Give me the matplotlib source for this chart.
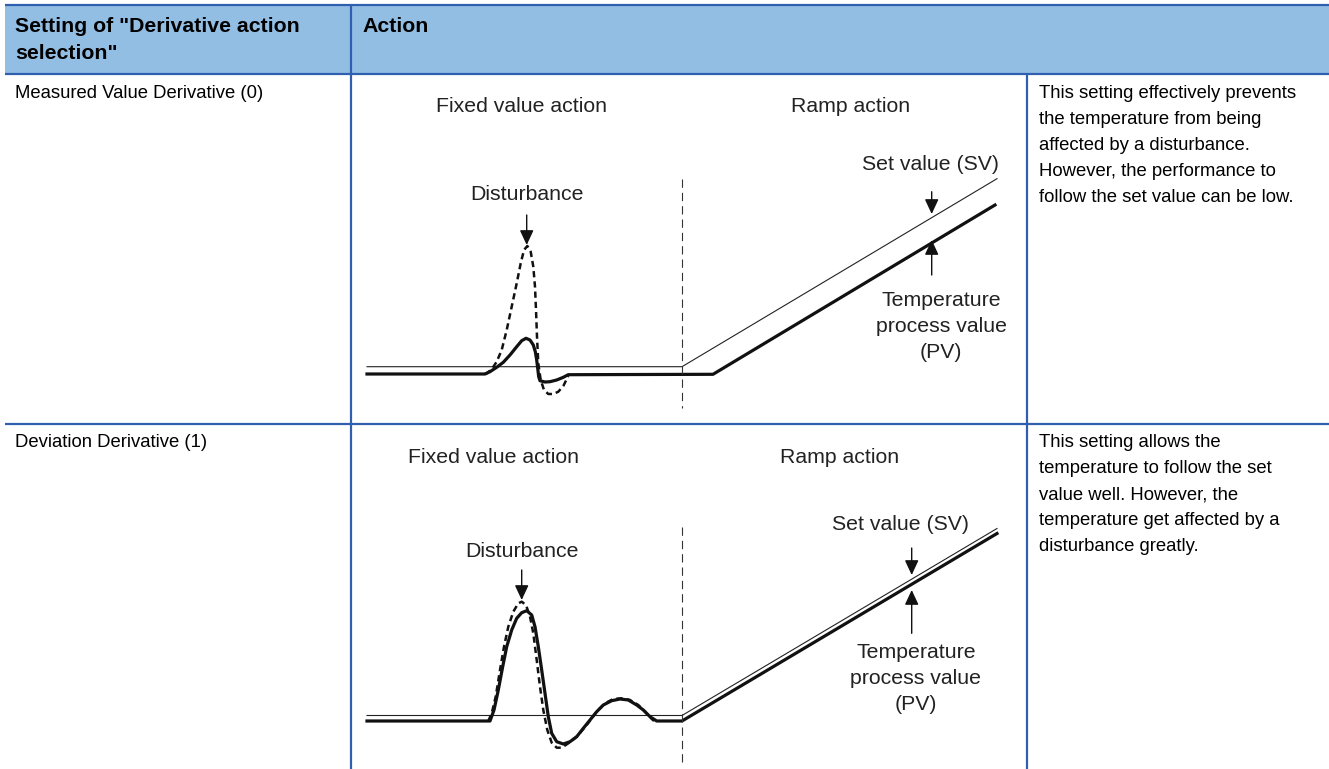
import matplotlib
matplotlib.use("Agg")
import matplotlib.pyplot as plt

plt.rcParams['font.family'] = ['Liberation Sans', 'DejaVu Sans']

# ---- table text ----
header_left = ['Setting of "Derivative action', 'selection"']
header_right = 'Action'
row_labels = ['Measured Value Derivative (0)', 'Deviation Derivative (1)']
row_notes = [
    ['This setting effectively prevents', 'the temperature from being',
     'affected by a disturbance.', 'However, the performance to',
     'follow the set value can be low.'],
    ['This setting allows the', 'temperature to follow the set',
     'value well. However, the', 'temperature get affected by a',
     'disturbance greatly.'],
]
pv_label = ['Temperature', 'process value', '(PV)']

# ---- panel 1: measured value derivative ----
p1_sv_t = [16, 331, 646]
p1_sv_v = [0, 0, 188]
p1_pv_t = [16, 134, 139, 145.7, 152.3, 159, 165.7, 170.7, 175, 179, 182.3, 184.3,
           185.7, 186.7, 187.7, 189, 194, 199, 205.7, 212.3, 217.3, 362, 644]
p1_pv_v = [-7.3, -7.3, -5, -0.6, 4.4, 11.7, 20, 26, 28.4, 26.7, 21.7, 15,
           6.7, -1.6, -10, -14, -15.3, -15, -13.3, -10.6, -8, -7.6, 161.7]
p1_dev_t = [134, 135.7, 140.7, 145.7, 150.7, 155.7, 160.7, 165.7, 169.7, 173, 176.3,
            179.7, 182.3, 184, 185, 186, 187.3, 189.7, 193, 197.3, 202.3, 207.3,
            212.3, 217.3]
p1_dev_v = [-7.3, -6.6, -2.6, 5, 16.7, 36.7, 60, 83.4, 103.4, 116.7, 120.7,
            115, 100, 80, 56.7, 30, 3.4, -13.3, -23.3, -27.3, -27.3, -25,
            -19.3, -9.3]

# ---- panel 2: deviation derivative ----
p2_sv_t = [16, 331, 646]
p2_sv_v = [0, 0, 187]
p2_pv_t = [16, 139, 143, 147.3, 151.7, 155.7, 160.7, 165.7, 170.7, 175.7, 180.7,
           184, 187.3, 190.7, 194, 197.3, 200.7, 205.7, 212.3, 219, 225.7, 232.3,
           239, 245.7, 252.3, 260.7, 269, 277.3, 285.7, 292.3, 299, 305.7, 331, 646]
p2_pv_v = [-5.5, -5.5, 5.5, 25.5, 48.8, 68.8, 85.5, 97.2, 102.8, 104.8, 100.5,
           88.8, 68.8, 45.5, 22.2, -1.2, -17.8, -26.2, -28.5, -26.2, -21.2, -12.8,
           -4.5, 3.8, 10.5, 14.8, 16.5, 15.5, 10.5, 5.5, -1.2, -5.5, -5.5, 182]
p2_dev_t = [137.3, 140.7, 144.7, 149, 153, 157.3, 162.3, 167.3, 170.7, 175, 179,
            182.3, 185.7, 189, 192.3, 196.3, 200.7, 205.7, 210.7, 217.3, 225.7,
            235.7, 245.7, 254, 262.3, 270.7, 279, 287.3, 294, 299, 303]
p2_dev_v = [-5.5, 2.2, 18.8, 45.5, 68.8, 88.8, 103.8, 112.2, 113.8, 110.5, 98.8,
            82.2, 55.5, 28.8, 5.5, -14.5, -27.2, -32.2, -32.2, -27.8, -21.2,
            -9.5, 3.8, 12.2, 16.5, 17.2, 15.5, 10.5, 3.8, -1.8, -5.5]

W, H = 1329, 769
fig = plt.figure(figsize=(W / 100, H / 100), dpi=100)

# table frame in pixel coordinates
tab = fig.add_axes([0, 0, 1, 1])
tab.set_xlim(0, W)
tab.set_ylim(H, 0)
tab.axis('off')

fill = '#93bee4'
border = '#2f5fae'
tab.fill_between([5, W], 5, 74, color=fill, lw=0)
for y in [5, 74, 424]:
    tab.plot([5, W], [y, y], color=border, lw=1.6, solid_capstyle='butt')
tab.plot([351, 351], [5, H], color=border, lw=1.6, solid_capstyle='butt')
tab.plot([1027, 1027], [74, H], color=border, lw=1.6, solid_capstyle='butt')

for i, line in enumerate(header_left):
    tab.text(15, 31.5 + 27.7 * i, line, fontsize=15.3, fontweight='bold', va='baseline')
tab.text(362, 31.5, header_right, fontsize=15.3, fontweight='bold', va='baseline')

row_base = [98.5, 447.3]
for lab, notes, y0 in zip(row_labels, row_notes, row_base):
    tab.text(15, y0, lab, fontsize=13.3, va='baseline')
    for k, line in enumerate(notes):
        tab.text(1039, y0 + 25.9 * k, line, fontsize=13.3, va='baseline')


def draw_panel(top, bottom, base, sv_t, sv_v, pv_t, pv_v, dev_t, dev_v,
               fixed_x, ramp_x, title_v, dist_t, dist_tail, dist_tip, dist_text_v,
               arr_t, sv_tail, sv_tip, pv_tip, pv_tail, sv_text_t, sv_text_v,
               pv_text_t, pv_text_v, div_top, div_bot):
    ax = fig.add_axes([351 / W, 1 - bottom / H, 676 / W, (bottom - top) / H])
    ax.set_xlim(0, 676)
    ax.set_ylim(base - bottom, base - top)
    ax.axis('off')
    ax.patch.set_alpha(0)

    ax.plot(sv_t, sv_v, color='#222222', lw=0.8)
    ax.plot(dev_t, dev_v, color='#111111', lw=1.8, dashes=(2.5, 1.6))
    ax.plot(pv_t, pv_v, color='#111111', lw=2.3, solid_joinstyle='round')
    ax.plot([331, 331], [div_top, div_bot], color='#333333', lw=0.8, dashes=(7.5, 4.5))

    ax.text(fixed_x, title_v, 'Fixed value action', fontsize=15.3, ha='center',
            va='baseline', color='#222222')
    ax.text(ramp_x, title_v, 'Ramp action', fontsize=15.3, ha='center',
            va='baseline', color='#222222')
    ax.text(dist_t, dist_text_v, 'Disturbance', fontsize=15.3, ha='center',
            va='baseline', color='#222222')
    ax.text(sv_text_t, sv_text_v, 'Set value (SV)', fontsize=15.3, ha='center',
            va='baseline', color='#222222')
    for k, line in enumerate(pv_label):
        ax.text(pv_text_t, pv_text_v - 26 * k, line, fontsize=15.3, ha='center',
                va='baseline', color='#222222')

    ap = dict(arrowstyle='-|>,head_length=0.9,head_width=0.42', color='#111111',
              lw=1.0, mutation_scale=10, shrinkA=0, shrinkB=0)
    ax.annotate('', xy=(dist_t, dist_tip), xytext=(dist_t, dist_tail), arrowprops=ap)
    ax.annotate('', xy=(arr_t, sv_tip), xytext=(arr_t, sv_tail), arrowprops=ap)
    ax.annotate('', xy=(arr_t, pv_tip), xytext=(arr_t, pv_tail), arrowprops=ap)


draw_panel(74, 424, 366.7, p1_sv_t, p1_sv_v, p1_pv_t, p1_pv_v, p1_dev_t, p1_dev_v,
           fixed_x=171, ramp_x=500, title_v=255, dist_t=175.7, dist_tail=151.7,
           dist_tip=121.7, dist_text_v=166.7, arr_t=580.7, sv_tail=175, sv_tip=152.7,
           pv_tip=126.7, pv_tail=91.7, sv_text_t=580, sv_text_v=196.7,
           pv_text_t=590, pv_text_v=60.7, div_top=187.7, div_bot=-41.3)

draw_panel(424, 769, 715.5, p2_sv_t, p2_sv_v, p2_pv_t, p2_pv_v, p2_dev_t, p2_dev_v,
           fixed_x=143, ramp_x=489, title_v=252.9, dist_t=170.7, dist_tail=145.5,
           dist_tip=115.5, dist_text_v=158.5, arr_t=560.7, sv_tail=167.5, sv_tip=140.5,
           pv_tip=125.5, pv_tail=82.2, sv_text_t=550, sv_text_v=185.5,
           pv_text_t=565, pv_text_v=57.5, div_top=188.5, div_bot=-50.5)

fig.savefig('out.png', dpi=100)
